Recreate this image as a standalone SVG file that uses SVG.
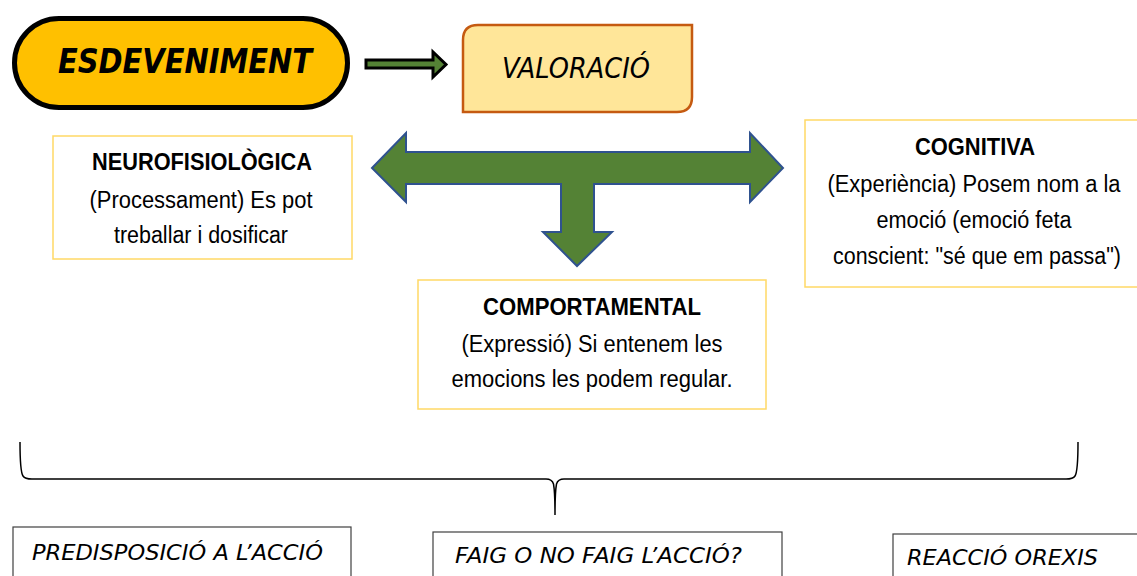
<svg xmlns="http://www.w3.org/2000/svg" width="1137" height="576" viewBox="0 0 1137 576">
<style>
.info{fill:#FFFFFF;stroke:#FFD966;stroke-width:1.5}
.plain{fill:#FFFFFF;stroke:#404040;stroke-width:1.2}
.t{font-family:"Liberation Sans",Arial,sans-serif;font-size:23px;fill:#000;text-anchor:middle}
.b{font-weight:bold}
.brush{font-family:"DejaVu Sans","Liberation Sans",sans-serif;font-style:italic;fill:#000}
</style>
<rect width="1137" height="576" fill="#FFFFFF"/>
<g id="esdeveniment">
<rect x="14.5" y="18.5" width="333" height="89" rx="44.5" ry="44.5" fill="#FFC000" stroke="#000" stroke-width="5"/>
<text class="brush" x="58" y="73" font-size="33" font-weight="bold" textLength="254" lengthAdjust="spacingAndGlyphs">ESDEVENIMENT</text>
</g>
<g id="valoracio">
<path d="M478,25 L692,25 L692,97 Q692,112 677,112 L463,112 L463,40 Q463,25 478,25 Z" fill="#FFE699" stroke="#C55A11" stroke-width="2.5"/>
<text class="brush" x="502" y="78" font-size="29" textLength="148" lengthAdjust="spacingAndGlyphs">VALORACIÓ</text>
</g>
<g id="neurofisiologica">
<rect class="info" x="53" y="136" width="299" height="123"/>
<text class="t b" x="202" y="170" textLength="220" lengthAdjust="spacingAndGlyphs">NEUROFISIOLÒGICA</text>
<text class="t" x="201" y="208" textLength="223" lengthAdjust="spacingAndGlyphs">(Processament) Es pot</text>
<text class="t" x="201" y="243" textLength="174" lengthAdjust="spacingAndGlyphs">treballar i dosificar</text>
</g>
<g id="cognitiva">
<rect class="info" x="805" y="120" width="340" height="167"/>
<text class="t b" x="975" y="155" textLength="120" lengthAdjust="spacingAndGlyphs">COGNITIVA</text>
<text class="t" x="974" y="192" textLength="293" lengthAdjust="spacingAndGlyphs">(Experiència) Posem nom a la</text>
<text class="t" x="974" y="228" textLength="195" lengthAdjust="spacingAndGlyphs">emoció (emoció feta</text>
<text class="t" x="977" y="264" textLength="288" lengthAdjust="spacingAndGlyphs">conscient: "sé que em passa")</text>
</g>
<g id="comportamental">
<rect class="info" x="418" y="280" width="348" height="129"/>
<text class="t b" x="592" y="315" textLength="218" lengthAdjust="spacingAndGlyphs">COMPORTAMENTAL</text>
<text class="t" x="592" y="352" textLength="261" lengthAdjust="spacingAndGlyphs">(Expressió) Si entenem les</text>
<text class="t" x="592" y="387" textLength="281" lengthAdjust="spacingAndGlyphs">emocions les podem regular.</text>
</g>
<g id="predisposicio">
<rect class="plain" x="13" y="527" width="338" height="60"/>
<text class="brush" x="32" y="560" font-size="22" textLength="291" lengthAdjust="spacingAndGlyphs">PREDISPOSICIÓ A L’ACCIÓ</text>
</g>
<g id="faig">
<rect class="plain" x="433" y="532" width="349" height="60"/>
<text class="brush" x="455" y="563" font-size="22" textLength="287" lengthAdjust="spacingAndGlyphs">FAIG O NO FAIG L’ACCIÓ?</text>
</g>
<g id="reaccio">
<rect class="plain" x="893" y="534" width="260" height="60"/>
<text class="brush" x="907" y="565" font-size="22" textLength="191" lengthAdjust="spacingAndGlyphs">REACCIÓ OREXIS</text>
</g>
<g id="connectors">
<path d="M366,60 L433,60 L433,52 L446,64.5 L433,77 L433,68 L366,68 Z" fill="#548235" stroke="#000" stroke-width="3" stroke-linejoin="miter"/>
<path d="M372,168 L406,133 L406,152 L750,152 L750,133 L783,168 L750,202 L750,184 L594,184 L594,232 L612,232 L577,266 L543,232 L561,232 L561,184 L406,184 L406,202 Z" fill="#548235" stroke="#2F528F" stroke-width="2" stroke-linejoin="miter"/>
<path d="M20,442 C20,460 21,473 23,476 Q25,479 32,479 L546,479 Q552,479 553.5,484 Q555,492 555,515 Q555,492 556.5,484 Q558,479 564,479 L1066,479 Q1073,479 1075,476 C1077,473 1078,460 1078,442" fill="none" stroke="#000" stroke-width="1.5"/>
</g>
</svg>
